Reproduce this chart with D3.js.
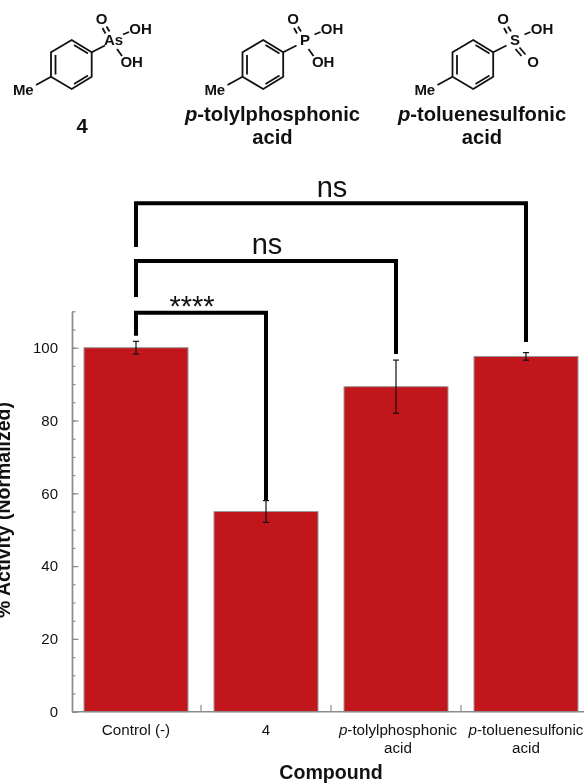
<!DOCTYPE html>
<html><head><meta charset="utf-8">
<script src="https://cdn.jsdelivr.net/npm/d3@7"></script>
<style>
html,body{margin:0;padding:0;background:#fff;overflow:hidden}
svg{display:block;filter:blur(0.45px)}
text{font-family:"Liberation Sans",Arial,sans-serif;fill:#111}
</style></head><body>
<svg id="c" width="584" height="783"></svg>
<script>
const categories = ["Control (-)", "4", "p-tolylphosphonic acid", "p-toluenesulfonic acid"];
const activity = [100, 55, 89.3, 97.6];
const errors = [1.75, 3, 7.3, 1.05];
const majorTicks = [0, 20, 40, 60, 80, 100];
const minorTicks = d3.range(0, 111, 5);
const comparisonTargets = [1, 2, 3];
const comparisonLabels = ["****", "ns", "ns"];
const compoundNames = [["4"], ["p-", "tolylphosphonic", "acid"], ["p-", "toluenesulfonic", "acid"]];

const svg = d3.select("#c");
const AX = "#8c8c8c", RED = "#c1171c", AXIS_X = 72;
const x = d3.scaleBand().domain(categories).range([71, 591]).paddingInner(0.2).paddingOuter(0.1);
const y = d3.scaleLinear().domain([0, 110]).range([711.7, 311.3]);

// Bars
svg.append("g").selectAll("rect").data(categories).join("rect")
  .attr("x", d => x(d)).attr("width", x.bandwidth())
  .attr("y", (d, i) => y(activity[i])).attr("height", (d, i) => y(0) - y(activity[i]))
  .attr("fill", RED).attr("stroke", "#9a9a9a").attr("stroke-width", 1);

// Y axis
const minorG = svg.append("g").attr("transform", `translate(${AXIS_X},0)`)
  .call(d3.axisLeft(y).tickValues(minorTicks).tickSizeInner(-3.5).tickSizeOuter(0).tickFormat(""));
const majorG = svg.append("g").attr("transform", `translate(${AXIS_X},0)`)
  .call(d3.axisLeft(y).tickValues(majorTicks).tickSizeInner(-6.5).tickSizeOuter(0).tickPadding(14));
[minorG, majorG].forEach(g => {
  g.selectAll("path,line").attr("stroke", AX).attr("stroke-width", 1.2);
});
minorG.select("path").attr("stroke-width", 1.6);
majorG.selectAll("text").attr("font-size", 15).attr("font-family", '"Liberation Sans",Arial,sans-serif').attr("fill", "#111");

// X axis line and separators
svg.append("line").attr("x1", AXIS_X).attr("x2", x.range()[1]).attr("y1", y(0)).attr("y2", y(0))
  .attr("stroke", AX).attr("stroke-width", 1.6);
svg.append("g").selectAll("line").data(categories.slice(1)).join("line")
  .attr("x1", d => x(d) - x.step() * x.paddingInner() / 2).attr("x2", d => x(d) - x.step() * x.paddingInner() / 2)
  .attr("y1", y(0)).attr("y2", y(0) - 7).attr("stroke", AX).attr("stroke-width", 1.2);

// Error bars
const cx = d => x(d) + x.bandwidth() / 2;
const eb = svg.append("g").attr("stroke", "#111").attr("stroke-width", 1.2);
categories.forEach((c, i) => {
  const top = y(activity[i] + errors[i]), bot = y(activity[i] - errors[i]);
  eb.append("line").attr("x1", cx(c)).attr("x2", cx(c)).attr("y1", top).attr("y2", bot);
  [top, bot].forEach(v => eb.append("line").attr("x1", cx(c) - 3).attr("x2", cx(c) + 3).attr("y1", v).attr("y2", v));
});

// X tick labels
const lab = svg.append("g").attr("font-size", 15.2).attr("text-anchor", "middle");
const labelNudge = [0, 0, 2, 0];
categories.forEach((c, i) => {
  const m = c.match(/^p-(\S+) (\S+)$/);
  const t = lab.append("text").attr("x", cx(c) + labelNudge[i]).attr("y", 735);
  if (m) {
    t.append("tspan").attr("font-style", "italic").text("p");
    t.append("tspan").text("-" + m[1]);
    lab.append("text").attr("x", cx(c) + labelNudge[i]).attr("y", 752.7).text(m[2]);
  } else t.text(c);
});

// Axis titles
svg.append("text").attr("x", 331).attr("y", 779).attr("text-anchor", "middle")
  .attr("font-weight", "bold").attr("font-size", 19.6).text("Compound");
svg.append("text").attr("transform", "translate(9.5,510) rotate(-90)").attr("text-anchor", "middle")
  .attr("font-weight", "bold").attr("font-size", 19.5).text("% Activity (Normalized)");

// Significance brackets
const levelY = [312.7, 261, 203.3], leftEnd = [335.7, 297, 247], rightEnd = [500, 354, 342];
const labelX = [192, 267, 332], labelY = [316, 254, 196.7], labelSize = [29, 29, 29];
const bg = svg.append("g");
comparisonTargets.forEach((t, i) => {
  const x0 = cx(categories[0]), x1 = cx(categories[t]);
  bg.append("path").attr("d", `M${x0},${leftEnd[i]}V${levelY[i]}H${x1}V${rightEnd[i]}`)
    .attr("fill", "none").attr("stroke", "#000").attr("stroke-width", 4);
  bg.append("text").attr("x", labelX[i]).attr("y", labelY[i]).attr("text-anchor", "middle")
    .attr("font-size", labelSize[i]).text(comparisonLabels[i]);
});

// Structures
function molecule(dx, centre, lowerIsDouble) {
  const g = svg.append("g").attr("transform", `translate(${dx},0)`);
  const ring = [[71.7,40],[91.7,52.3],[91.7,76.7],[71.7,89],[51,76.7],[51,52.3]];
  g.append("path").attr("d", d3.line()(ring) + "Z").attr("fill", "none").attr("stroke", "#111").attr("stroke-width", 1.8);
  const segs = [[55.5,55,55.5,74.5],[74,45,88,53.5],[74,84,88,75.5],[51,76.7,36,85],[91.7,52.3,105,45.5],
    [123,34.5,129,32],[117,49,122,56],[105.5,33.5,102.5,28],[109.5,31.5,106.5,26.5]];
  if (lowerIsDouble) { segs[6] = [114,49,120,56]; segs.push([118,47.5,124,54.5]); }
  g.selectAll("line").data(segs).join("line")
    .attr("x1", d => d[0]).attr("y1", d => d[1]).attr("x2", d => d[2]).attr("y2", d => d[3])
    .attr("stroke", "#111").attr("stroke-width", 1.8);
  const t = g.append("g").attr("font-size", 15).attr("font-weight", "bold").attr("text-anchor", "middle");
  const put = (a, b, s) => t.append("text").attr("x", a).attr("y", b + 5.4).text(s);
  put(113.5, 40, centre); put(101.7, 19, "O"); put(140.5, 29, "OH");
  put(131.7, 61.7, lowerIsDouble ? "O" : "OH"); put(23.3, 89.3, "Me");
}
molecule(0, "As", false);
molecule(191.5, "P", false);
molecule(401.5, "S", true);

const cap = svg.append("g").attr("font-size", 20.2).attr("font-weight", "bold").attr("text-anchor", "middle");
cap.append("text").attr("x", 82).attr("y", 132.5).text(compoundNames[0][0]);
[[272.5, compoundNames[1]], [482, compoundNames[2]]].forEach(([a, n]) => {
  const t = cap.append("text").attr("x", a).attr("y", 121);
  t.append("tspan").attr("font-style", "italic").text("p");
  t.append("tspan").text("-" + n[1]);
  cap.append("text").attr("x", a).attr("y", 144).text(n[2]);
});
</script></body></html>
